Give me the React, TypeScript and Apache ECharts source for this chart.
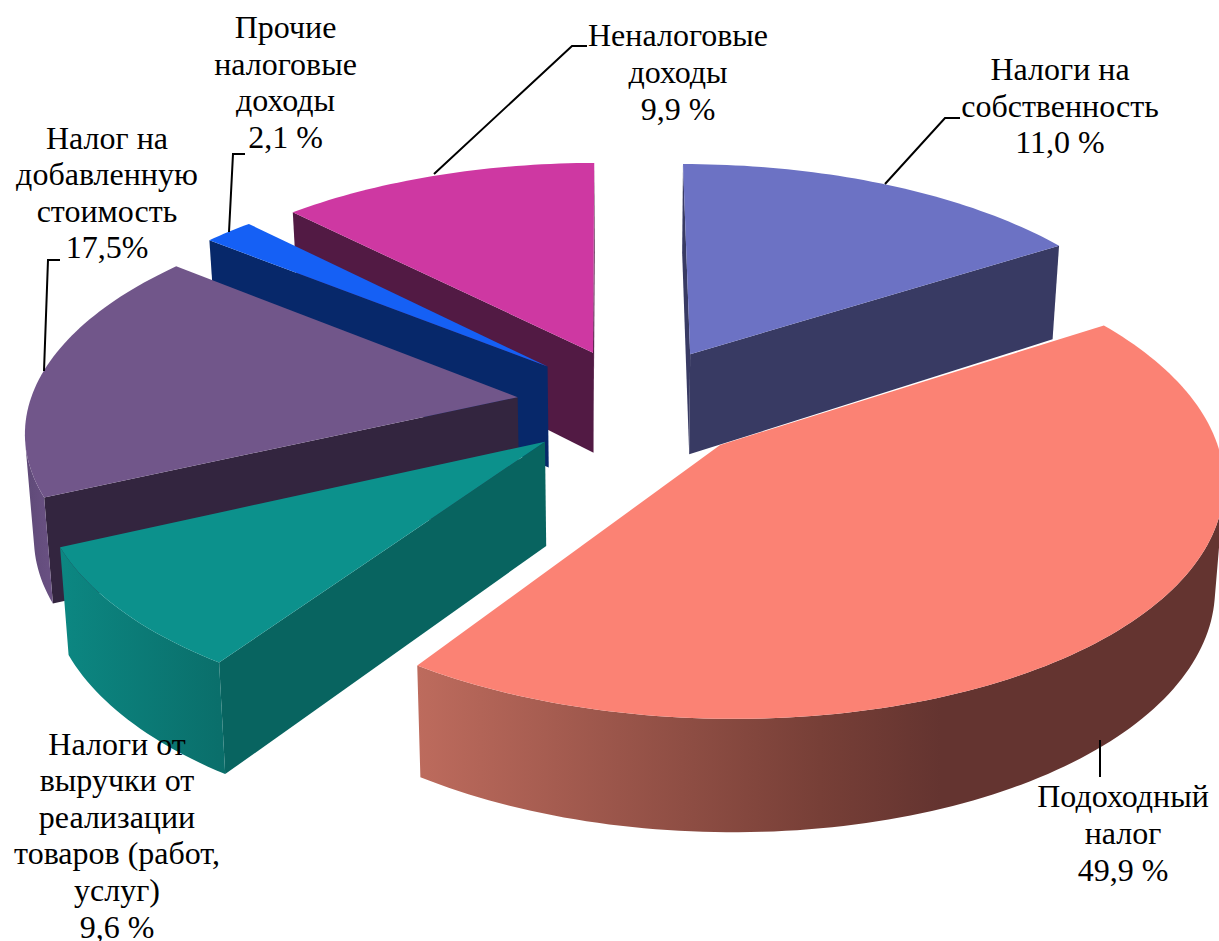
import React, { useEffect, useRef } from "react";
import * as echarts from "echarts";

// Slices, clockwise from 12 o'clock.
const categories = [
  "Налоги на собственность",
  "Подоходный налог",
  "Налоги от выручки от реализации товаров (работ, услуг)",
  "Налог на добавленную стоимость",
  "Прочие налоговые доходы",
  "Неналоговые доходы",
];
// Sizes of the slices as the picture draws them, in % of the circle.
const drawnShares = [15.9, 43.6, 8.6, 17.7, 1.9, 12.2];
// Label texts, with the percentages the picture prints.
const labelTexts = [
  "Налоги на\nсобственность\n11,0 %",
  "Подоходный\nналог\n49,9 %",
  "Налоги от\nвыручки от\nреализации\nтоваров (работ,\nуслуг)\n9,6 %",
  "Налог на\nдобавленную\nстоимость\n17,5%",
  "Прочие\nналоговые\nдоходы\n2,1 %",
  "Неналоговые\nдоходы\n9,9 %",
];
const explode = [0.25, 0.27, 0.23, 0.21, 0.21, 0.22];
// Small correction of each slice's explosion, in units of the pie's radius.
const explodeNudge = [
  [0.015, 0],
  [0, 0.006],
  [0.009, -0.024],
  [-0.019, -0.004],
  [-0.013, 0.02],
  [0.011, 0.023],
];
const radiusScale = [1, 0.995, 1, 1, 1, 1];

const topColors = ["#6c72c4", "#fb8274", "#0c918c", "#71568a", "#1560f5", "#ce38a2"];
const wallColors = ["#383a63", "#643430", "#086460", "#33253f", "#07286a", "#521a44"];
const rimStops: [number, string][][] = [
  [[0, "#383a63"], [1, "#383a63"]],
  [[0, "#bd6b5d"], [0.5, "#773f37"], [0.65, "#643430"], [1, "#643430"]],
  [[0, "#0c8782"], [1, "#0a6e6a"]],
  [[0, "#5f4a78"], [1, "#6a5183"]],
  [[0, "#07286a"], [1, "#07286a"]],
  [[0, "#521a44"], [1, "#521a44"]],
];

const labelPos = [
  [1060, 105.5],
  [1123, 833],
  [117, 835],
  [107, 192.5],
  [285.5, 82],
  [678, 72],
];
const leaders: number[][][] = [
  [[885, 184], [945, 118], [960, 118]],
  [[1100, 740], [1100, 777]],
  [],
  [[44, 371], [48, 260], [60, 260]],
  [[229, 232], [233, 154], [245, 154]],
  [[434, 174], [572, 46], [587, 46]],
];

// Camera of the 3-D pie.
const CX = 627, CY = 402, R = 482, K = 0.465, P = 0.13, H = 103, Q = 0.015, RIM = 1.012;
function project(u: number, v: number, z: number): number[] {
  const s = 1 / (1 + P * v);
  const depth = H * (s > 1 ? 1 + 0.55 * (s - 1) : s);
  return [CX + R * u * s * (1 - Q * z), CY - R * K * v * s + depth * z];
}
const cross = (a: number[], b: number[], c: number[]) =>
  (b[0] - a[0]) * (c[1] - b[1]) - (b[1] - a[1]) * (c[0] - b[0]);

function sliceChildren(i: number, share: number, startShare: number) {
  const a0 = Math.PI / 2 - (startShare / 100) * 2 * Math.PI;
  const a1 = a0 - (share / 100) * 2 * Math.PI;
  const mid = (a0 + a1) / 2;
  const ua = explode[i] * Math.cos(mid) + explodeNudge[i][0];
  const va = explode[i] * Math.sin(mid) + explodeNudge[i][1];
  const radius = RIM * radiusScale[i];
  const rim = (t: number, z: number) =>
    project(ua + radius * Math.cos(t), va + radius * Math.sin(t), z);
  const n = Math.max(8, Math.ceil(share * 3));
  const angles: number[] = [];
  for (let k = 0; k <= n; k++) angles.push(a0 + ((a1 - a0) * k) / n);

  const base = Math.round((1 - va) * 1000);
  const poly = (points: number[][], fill: any, order: number) => ({
    type: "polygon",
    z2: base + order,
    silent: true,
    shape: { points },
    style: { fill, stroke: "none" },
  });
  const children: any[] = [];
  const apexT = project(ua, va, 0);
  const apexB = project(ua, va, 1);
  // Side walls, each only when it faces the viewer.
  if (cross(apexT, rim(a0, 0), rim(a0, 1)) < 0)
    children.push(poly([apexT, rim(a0, 0), rim(a0, 1), apexB], wallColors[i], 1));
  if (cross(apexT, rim(a1, 0), rim(a1, 1)) > 0)
    children.push(poly([apexT, rim(a1, 0), rim(a1, 1), apexB], wallColors[i], 2));
  // Outer rim: the part that faces the viewer.
  const visible: number[] = [];
  for (let k = 0; k < n; k++) {
    const q = cross(rim(angles[k], 0), rim(angles[k + 1], 0), rim(angles[k + 1], 1));
    if (q < 0) {
      if (!visible.length) visible.push(angles[k]);
      visible.push(angles[k + 1]);
    }
  }
  if (visible.length > 1) {
    const pts = visible.map((t) => rim(t, 0)).concat(visible.slice().reverse().map((t) => rim(t, 1)));
    const fill = new echarts.graphic.LinearGradient(
      0, 0, 1, 0,
      rimStops[i].map(([offset, color]) => ({ offset, color }))
    );
    children.push(poly(pts, fill, 3));
  }
  // Top face.
  children.push(poly([apexT, ...angles.map((t) => rim(t, 0))], topColors[i], 4));
  return children;
}

export default function App() {
  const ref = useRef<HTMLDivElement>(null);
  useEffect(() => {
    const chart = echarts.init(ref.current!, undefined, { renderer: "svg" });
    const graphicEls: any[] = [];
    leaders.forEach((points) => {
      if (points.length)
        graphicEls.push({
          type: "polyline",
          z: 10,
          silent: true,
          shape: { points },
          style: { stroke: "#000", lineWidth: 2, fill: "none" },
        });
    });
    labelTexts.forEach((text, i) => {
      graphicEls.push({
        type: "text",
        z: 11,
        silent: true,
        x: labelPos[i][0],
        y: labelPos[i][1],
        style: {
          text,
          fill: "#000",
          font: '32px "Liberation Serif"',
          lineHeight: 36.6,
          align: "center",
          verticalAlign: "middle",
        },
      });
    });
    chart.setOption({
      animation: false,
      backgroundColor: "#ffffff",
      graphic: { elements: graphicEls },
      series: [
        {
          type: "custom",
          coordinateSystem: "none",
          silent: true,
          data: drawnShares.map((value, i) => ({ name: categories[i], value: [value] })),
          renderItem: (params: any, api: any) => {
            const i = params.dataIndex;
            let start = 0;
            for (let k = 0; k < i; k++) start += drawnShares[k];
            return { type: "group", children: sliceChildren(i, api.value(0), start) };
          },
        },
      ],
    });
    return () => chart.dispose();
  }, []);
  return (
    <div
      ref={ref}
      style={{ position: "fixed", left: 0, top: 0, width: 1219, height: 941 }}
    />
  );
}
